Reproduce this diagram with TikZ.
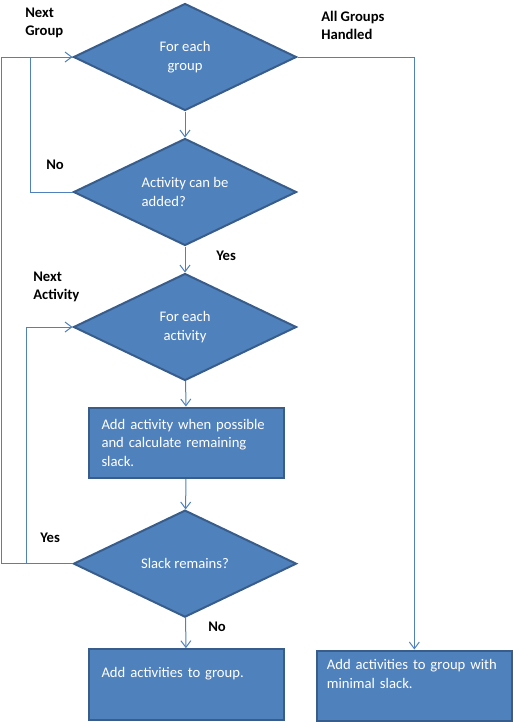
\documentclass[tikz,border=0pt]{standalone}
\usepackage{fontspec}
\setmainfont{Carlito}
\usetikzlibrary{shapes.geometric, arrows.meta, positioning}
\definecolor{boxblue}{HTML}{4F81BD}
\definecolor{boxedge}{HTML}{385D8A}

\begin{document}
\begin{tikzpicture}[x=0.75pt, y=-0.75pt, font=\fontsize{11}{13.8}\selectfont,
            % Styles
            decision/.style={diamond, aspect=2.1, draw=boxedge, fill=boxblue, line width=1.5pt, text=white, align=center, inner sep=0pt, minimum width=167.25pt, minimum height=80.25pt},
            process/.style={rectangle, draw=boxedge, fill=boxblue, line width=1.5pt, text=white, align=left, text width=127.25pt, inner xsep=9.5pt, minimum height=53pt},
            line/.style={draw=boxblue, line width=0.75pt, -{Straight Barb[length=5pt, width=7.5pt]}},
            link/.style={draw=boxblue, line width=0.75pt},
            lbl/.style={font=\fontsize{11}{13.5}\selectfont\bfseries, align=left, inner sep=0pt, anchor=west}
        ]
        \useasboundingbox (0,0) rectangle (513,722);

        % Nodes
        \node [decision] (group) at (185,57) {For each\\group};
        \node [decision, align=left, below=19.5pt of group] (added) {Activity can be\\added?};
        \node [decision, below=19.5pt of added] (activity) {For each\\activity};
        \node [process, below=18.75pt of activity, xshift=1pt] (calc) {Add activity when possible\\and calculate remaining\\slack.};
        \node [decision, below=22.5pt of calc, xshift=-1pt] (slack) {Slack remains?};
        \node [process, below=22.5pt of slack, xshift=1pt] (togroup) {Add activities to group.\\\strut};
        \node [process, right=23.25pt of togroup, yshift=-1pt, inner xsep=7.5pt, text width=131.25pt] (minimal) {Add activities to group with\\minimal slack.\\\strut};
        \coordinate (edge) at (1,0);

        % Edges
        \path [line] (group) -- (added);
        \path [line] (added.west) -- ++(-42,0) |- (group.west);
        \path [line] (added) -- (activity);
        \path [line] (activity) -- (calc);
        \path [line] (calc) -- (slack);
        \path [line] (slack.west) -- ++(-46,0) |- (activity.west);
        \path [link] (slack.west) -- (slack.west -| edge) |- (group.west);
        \path [line] (slack) -- (togroup);
        \path [line] (group.east) -| (minimal.north);

        % Labels
        \node [lbl] (nextgroup) at (25,23) {Next\\Group};
        \node [lbl] (allgroups) at (321,25.5) {All Groups\\Handled};
        \node [lbl] (nextact) at (33,286.5) {Next\\Activity};
        \node [lbl] (notadded) at (46,165) {No};
        \node [lbl] (canadd) at (216,256) {Yes};
        \node [lbl] (remains) at (40,538) {Yes};
        \node [lbl] (noslack) at (208,627) {No};

    \end{tikzpicture}
\end{document}
